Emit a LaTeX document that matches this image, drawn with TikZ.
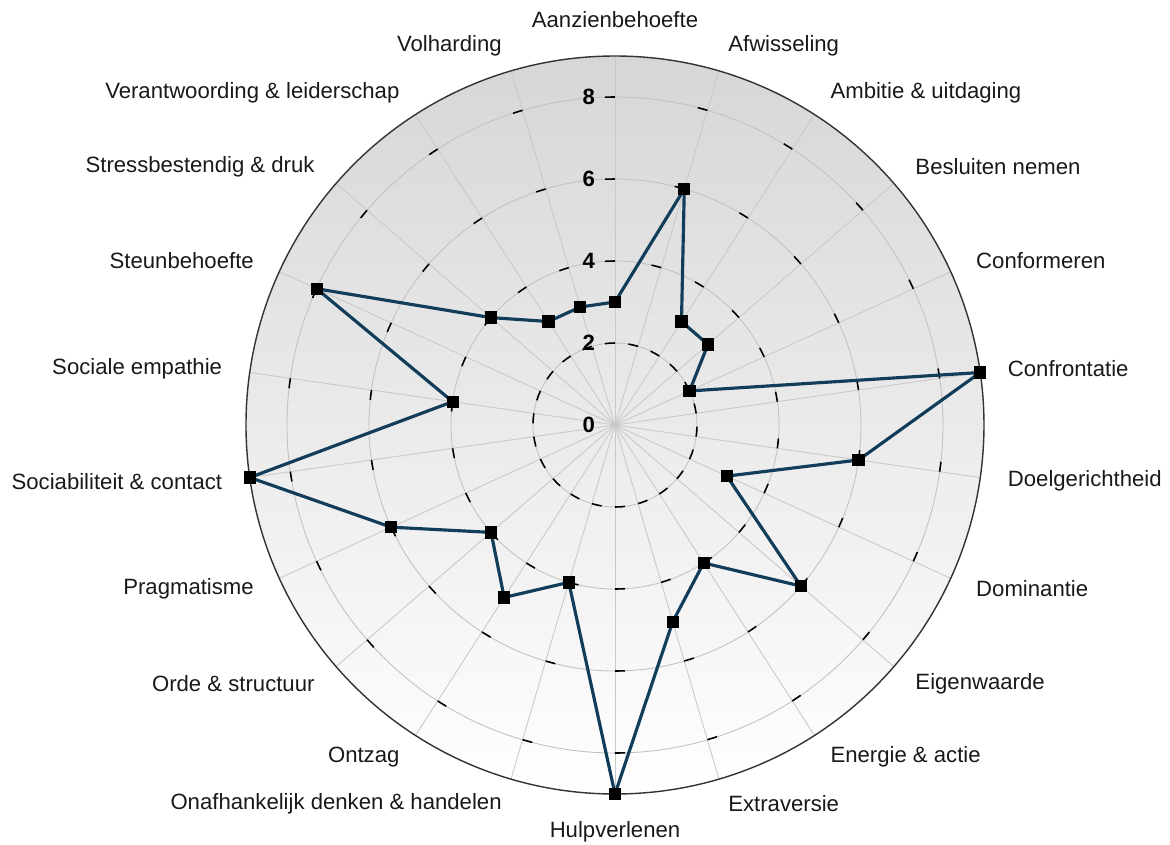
\documentclass[tikz,border=0pt]{standalone}
\usepackage{fontspec}
\setmainfont{Liberation Sans}

\definecolor{seriesblue}{HTML}{123D5A}

\begin{document}
\begin{tikzpicture}[
    x=0.82cm, y=0.82cm,
    % Styles
    grid-ring/.style={draw=black!24, line width=0.5pt},
    spoke/.style={draw=black!21, line width=0.5pt},
    ring-tick/.style={draw=black, line width=0.9pt},
    outer-ring/.style={draw=black!80, line width=0.8pt},
    data-line/.style={draw=seriesblue, line width=1.8pt, line cap=round},
    marker/.style={rectangle, fill=black, minimum size=7pt, inner sep=0pt},
    axis-label/.style={font=\fontsize{12.6}{15}\selectfont\bfseries, inner sep=1pt},
    spoke-label/.style={font=\fontsize{12.6}{15}\selectfont, inner sep=1pt, text=black!90},
]

\useasboundingbox (-15.0,-10.22) rectangle (13.537,10.366);

% Background disc
\shade[top color=black!16, bottom color=white] (0,0) circle[radius=9];

% Spokes
\foreach \i in {0,...,21}
    \draw[spoke] (0,0) -- ({90-\i*360/22}:9);

% Rings
\foreach \r in {2,4,6,8}
    \draw[grid-ring] (0,0) circle[radius=\r];

% Ring ticks, one per spoke
\foreach \r in {2,4,6,8}
    \foreach \i in {0,...,21}
        \draw[ring-tick] ({90-\i*360/22}:\r) arc[start angle={90-\i*360/22}, delta angle={14/\r}, radius=\r];

% Outer ring
\draw[outer-ring] (0,0) circle[radius=9];

% Axis values
\foreach \v in {0,2,4,6,8}
    \node[axis-label, anchor=east] (val-\v) at (-0.44,\v) {\v};

% Spoke labels and values
\foreach \txt/\val/\anc [count=\i from 0] in {
    Aanzienbehoefte/3/south,
    Afwisseling/6/west,
    Ambitie \& uitdaging/3/west,
    Besluiten nemen/3/west,
    Conformeren/2/west,
    Confrontatie/9/west,
    Doelgerichtheid/6/west,
    Dominantie/3/west,
    Eigenwaarde/6/west,
    Energie \& actie/4/west,
    Extraversie/5/west,
    Hulpverlenen/9/north,
    Onafhankelijk denken \& handelen/4/east,
    Ontzag/5/east,
    Orde \& structuur/4/east,
    Pragmatisme/6/east,
    Sociabiliteit \& contact/9/east,
    Sociale empathie/4/east,
    Steunbehoefte/8/east,
    Stressbestendig \& druk/4/east,
    Verantwoording \& leiderschap/3/east,
    Volharding/3/east} {
    \pgfmathsetmacro\ang{90-\i*360/22}
    \node[spoke-label, anchor=\anc] (lbl-\i) at (\ang:9.63) {\txt};
    \coordinate (v-\i) at (\ang:\val);
}

% Series line
\foreach \i in {0,...,21} {
    \pgfmathtruncatemacro\j{mod(\i+1,22)}
    \draw[data-line] (v-\i) -- (v-\j);
}

% Markers
\foreach \i in {0,...,21}
    \node[marker] (pt-\i) at (v-\i) {};

\end{tikzpicture}
\end{document}
